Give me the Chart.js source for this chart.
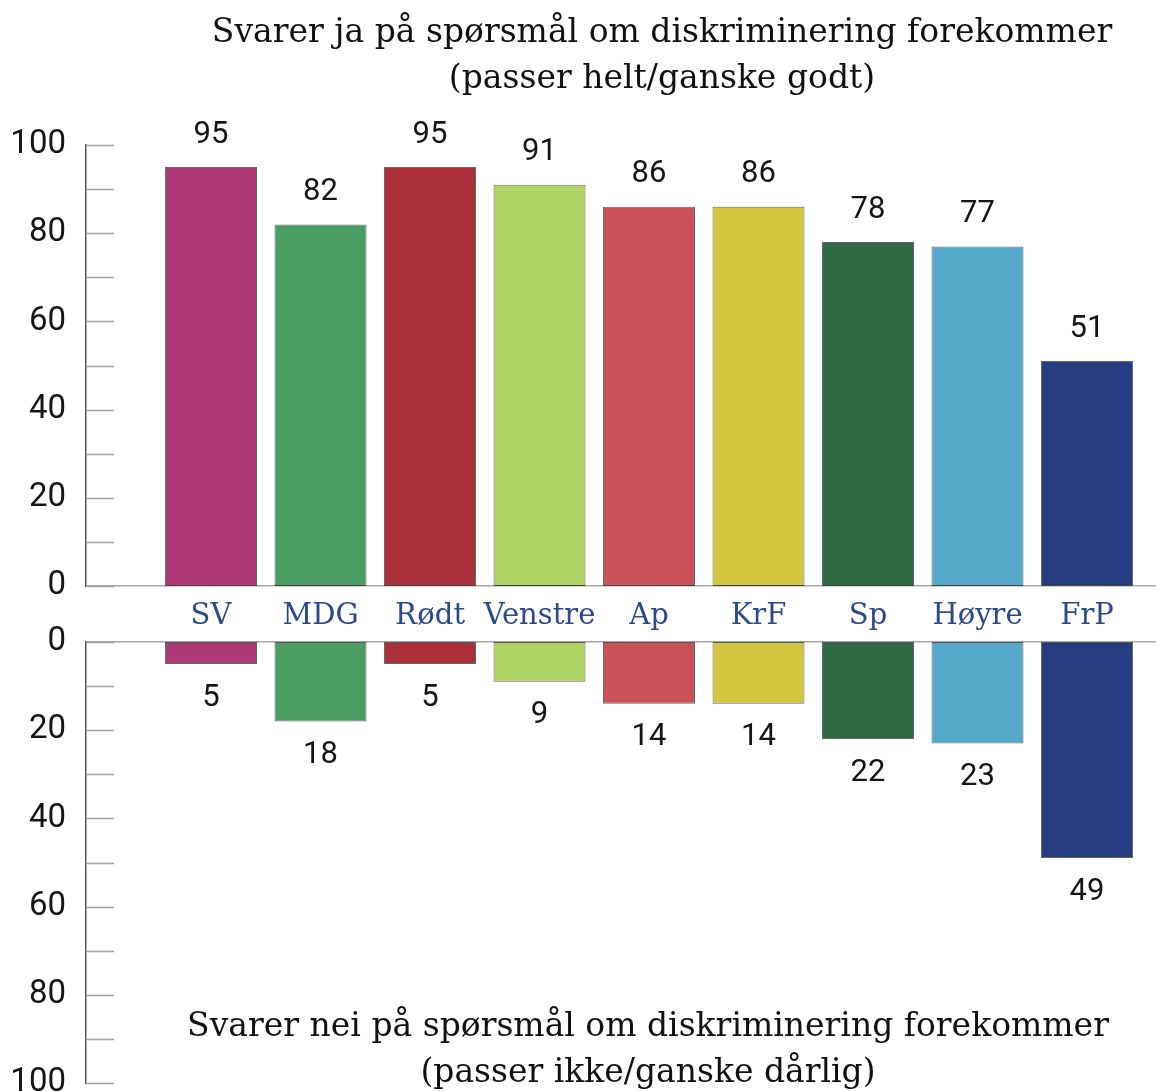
<!DOCTYPE html>
<html>
<head>
<meta charset="utf-8">
<script src="https://cdn.jsdelivr.net/npm/chart.js@4.4.1/dist/chart.umd.min.js"></script>
<style>
  body { margin: 0; background: #fff; }
  #wrap { position: relative; width: 1156px; height: 1091px; overflow: hidden; }
  #wrap canvas { position: absolute; left: 0; }
  .title {
    position: absolute;
    font-family: "DejaVu Serif", serif;
    font-size: 33px;
    color: #111;
    text-align: center;
    white-space: nowrap;
    line-height: 46px;
    transform: translateX(-50%);
  }
</style>
</head>
<body>
<div id="wrap">
  <canvas id="topChart" style="top:0px" width="1156" height="642"></canvas>
  <canvas id="bottomChart" style="top:600px" width="1156" height="491"></canvas>
  <div class="title" style="left:662px; top:8px;">Svarer ja på spørsmål om diskriminering forekommer<br>(passer helt/ganske godt)</div>
  <div class="title" style="left:648px; top:1002px;">Svarer nei på spørsmål om diskriminering forekommer<br>(passer ikke/ganske dårlig)</div>
</div>
<script>
// Parties and answers (percent)
const parties = ["SV", "MDG", "Rødt", "Venstre", "Ap", "KrF", "Sp", "Høyre", "FrP"];
const yesValues = [95, 82, 95, 91, 86, 86, 78, 77, 51];
const noValues = [5, 18, 5, 9, 14, 14, 22, 23, 49];
const partyColors = ["#ad3875", "#4a9e62", "#ab303a", "#b0d464", "#cb5259", "#d1c63e", "#2f6b42", "#55aacb", "#233d80"];

const tickFont = { family: "Roboto", size: 33 };
const valueFont = "31px Roboto";

// short tick marks to the right of the y axis line
const innerTicks = {
  id: "innerTicks",
  afterDraw(chart) {
    const y = chart.scales.y;
    const ctx = chart.ctx;
    const left = chart.chartArea.left;
    ctx.save();
    ctx.strokeStyle = "#a0a0a0";
    ctx.lineWidth = 1.5;
    y.ticks.forEach(t => {
      const py = Math.round(y.getPixelForValue(t.value)) + 0.5;
      ctx.beginPath();
      ctx.moveTo(left, py);
      ctx.lineTo(left + 28, py);
      ctx.stroke();
    });
    ctx.restore();
  }
};

// numbers above / below each bar
const valueLabels = {
  id: "valueLabels",
  afterDatasetsDraw(chart, args, opts) {
    const ctx = chart.ctx;
    const meta = chart.getDatasetMeta(0);
    const values = chart.data.datasets[0].data;
    ctx.save();
    ctx.font = valueFont;
    ctx.fillStyle = "#151515";
    ctx.textAlign = "center";
    ctx.textBaseline = "middle";
    meta.data.forEach((bar, i) => {
      ctx.fillText(values[i].y, bar.x, bar.y + opts.offset);
    });
    ctx.restore();
  }
};

function makeXScale(position, showLabels) {
  return {
    type: "linear",
    position: position,
    offset: false,
    min: -1.1416,
    max: 8.63,
    afterBuildTicks: axis => { axis.ticks = parties.map((p, i) => ({ value: i })); },
    afterFit: s => { s.height = showLabels ? 56 : 0; },
    grid: { display: false, drawTicks: false },
    border: { display: true, color: "#a8a8a8", width: 1.5 },
    ticks: {
      display: showLabels,
      autoSkip: false,
      maxRotation: 0,
      padding: 13,
      color: "#2b4a8b",
      font: { family: "DejaVu Serif", size: 29 },
      callback: v => parties[v]
    }
  };
}

function makeYScale(reverse) {
  return {
    min: 0,
    max: 100,
    reverse: reverse,
    afterFit: s => { s.width = 86; s.paddingTop = 0; s.paddingBottom = 0; },
    grid: { display: false, drawTicks: false },
    border: { display: true, color: "#555", width: 1.5 },
    ticks: {
      stepSize: 10,
      padding: 20,
      color: "#151515",
      font: tickFont,
      callback: v => (v % 20 === 0 ? v : "")
    }
  };
}

function makeChart(id, values, reverse, padding, offset) {
  return new Chart(document.getElementById(id), {
    type: "bar",
    data: {
      datasets: [{
        data: values.map((v, i) => ({ x: i, y: v })),
        backgroundColor: partyColors,
        borderColor: "rgba(0,0,0,0.6)",
        borderWidth: 1,
        borderSkipped: false,
        categoryPercentage: 1,
        barPercentage: 0.84
      }]
    },
    options: {
      responsive: false,
      animation: false,
      layout: { padding: padding },
      plugins: {
        legend: { display: false },
        tooltip: { enabled: false },
        valueLabels: { offset: offset }
      },
      scales: {
        x: makeXScale(reverse ? "top" : "bottom", !reverse),
        y: makeYScale(reverse)
      }
    },
    plugins: [innerTicks, valueLabels]
  });
}

makeChart("topChart", yesValues, false, { top: 145, left: 0, right: 0, bottom: 0 }, -32);
makeChart("bottomChart", noValues, true, { top: 42, left: 0, right: 0, bottom: 8 }, 34);
</script>
</body>
</html>
